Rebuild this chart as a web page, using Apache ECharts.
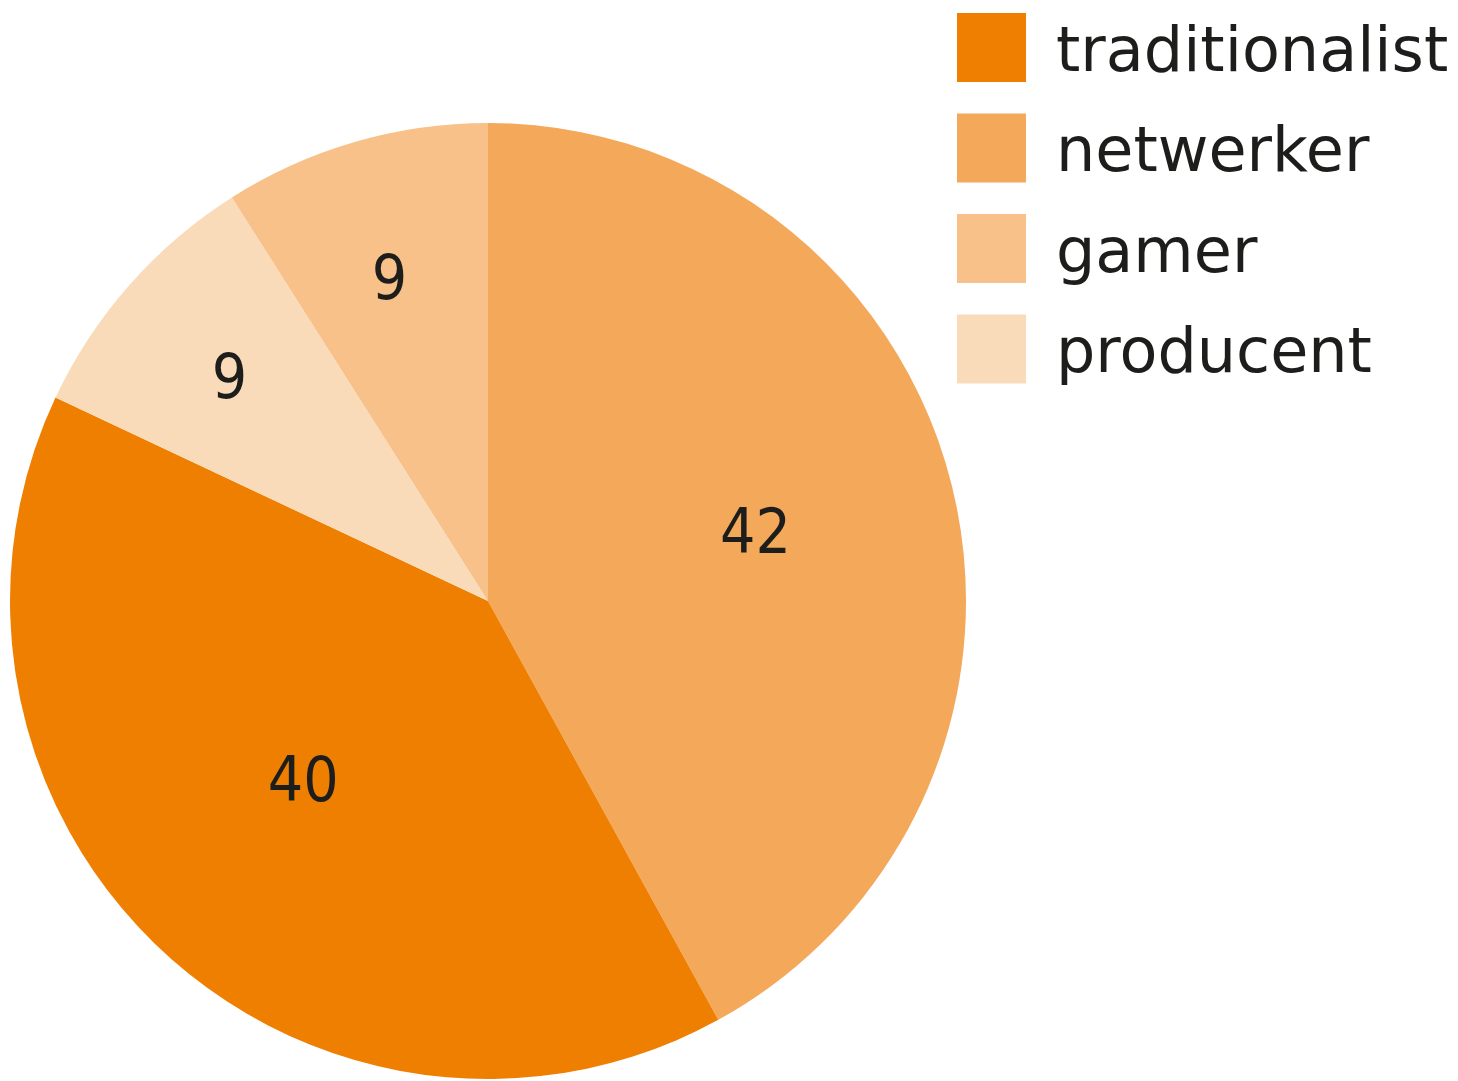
<!DOCTYPE html>
<html>
<head>
<meta charset="utf-8">
<script src="https://cdn.jsdelivr.net/npm/echarts@6/dist/echarts.min.js"></script>
<style>
  html, body { margin: 0; padding: 0; background: #fff; }
  #main { width: 1458px; height: 1081px; }
</style>
</head>
<body>
<div id="main"></div>
<script>
// slices, clockwise from 12 o'clock
var categories = ['netwerker', 'traditionalist', 'producent', 'gamer'];
var values = [42, 40, 9, 9];
// legend reads top to bottom in this order
var legendOrder = ['traditionalist', 'netwerker', 'gamer', 'producent'];

var colorMap = {
	traditionalist: '#EE7F00',
	netwerker: '#F4A85A',
	gamer: '#F8C18A',
	producent: '#FADBB9'
};
// nudge the value labels to where the original puts them
var labelShift = {
	netwerker: [33, -4],
	traditionalist: [-19, 7],
	producent: [-77, -59],
	gamer: [-31, -86]
};

function initChart(){
	var seriesData = [];
	for (var i = 0; i < categories.length; i++) {
		var name = categories[i];
		seriesData.push({
			name: name,
			value: values[i],
			itemStyle: { color: colorMap[name] },
			label: { offset: labelShift[name] }
		});
	}

	var myChart = echarts.init(document.getElementById('main'), null, { renderer: 'canvas' });
	var option = {
		animation: false,
		legend: {
			orient: 'vertical',
			left: 957,
			top: 13,
			padding: 0,
			itemWidth: 69,
			itemHeight: 69,
			itemGap: 28,
			icon: 'rect',
			data: legendOrder,
			selectedMode: false,
			formatter: '{n|{name}}',
			textStyle: {
				fontFamily: 'DejaVu Sans',
				fontSize: 62,
				color: '#1d1d1b',
				rich: {
					n: {
						fontFamily: 'DejaVu Sans',
						fontSize: 62,
						color: '#1d1d1b',
						padding: [14, 0, 0, 25]
					}
				}
			}
		},
		series: [{
			type: 'pie',
			center: [488, 601],
			radius: 478,
			startAngle: 90,
			clockwise: true,
			silent: true,
			label: {
				show: true,
				position: 'inside',
				formatter: '{c}',
				fontFamily: 'DejaVu Sans Condensed',
				fontSize: 62,
				color: '#1d1d1b'
			},
			labelLine: { show: false },
			itemStyle: { borderWidth: 0 },
			data: seriesData
		}]
	};
	myChart.setOption(option);
}

initChart();
</script>
</body>
</html>
